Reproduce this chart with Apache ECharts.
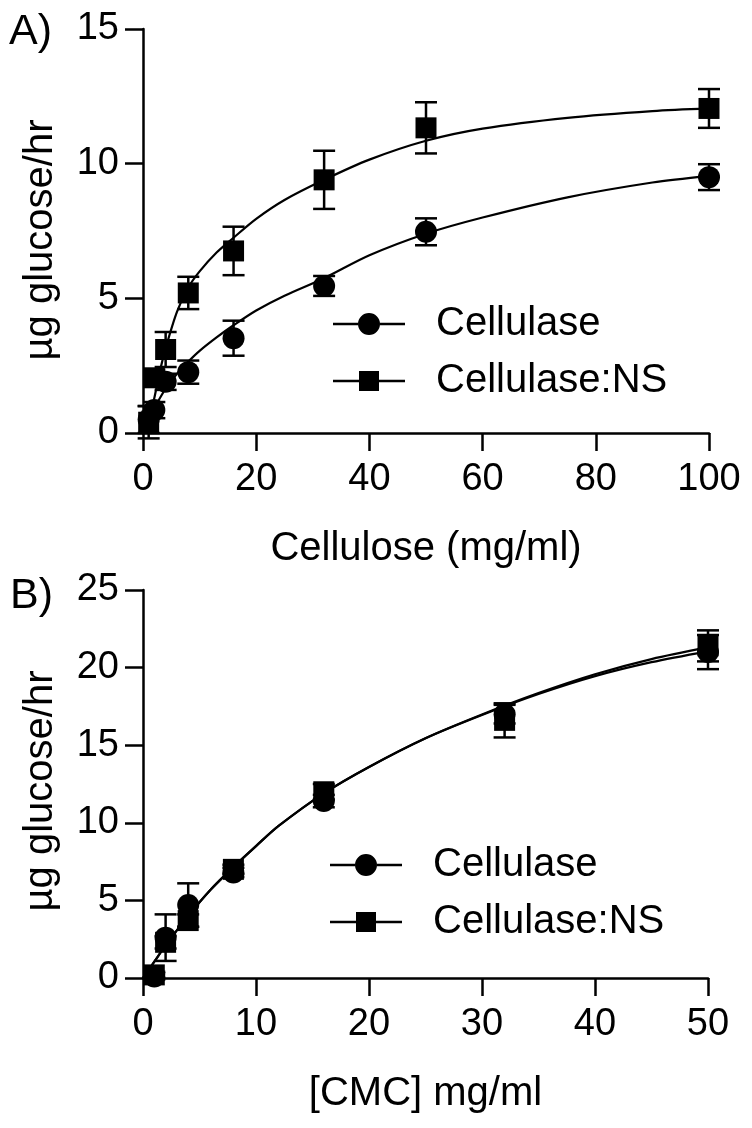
<!DOCTYPE html>
<html>
<head>
<meta charset="utf-8">
<script src="https://cdn.jsdelivr.net/npm/echarts@6/dist/echarts.min.js"></script>
<style>html,body{margin:0;padding:0;background:#fff}#c{width:752px;height:1128px}</style>
</head>
<body>
<div id="c"></div>
<script>
// ---------- Panel A data (Cellulose) ----------
const xA = [1, 2, 4, 8, 16, 32, 50, 100];
const cellA = [0.5, 0.85, 1.9, 2.26, 3.52, 5.46, 7.47, 9.5];
const cellA_err = [0.5, 0.3, 0.3, 0.43, 0.65, 0.37, 0.5, 0.48];
const nsA = [0.4, 2.05, 3.1, 5.2, 6.76, 9.4, 11.33, 12.05];
const nsA_err = [0.6, 0.3, 0.65, 0.6, 0.9, 1.08, 0.95, 0.72];
// fitted curves
const xA_fit = [0, 0.5, 1, 2, 3, 4, 6, 8, 10, 13, 16, 20, 25, 32, 40, 50, 60, 75, 90, 100];
const cellA_fit = [0, 0.3, 0.6, 0.95, 1.3, 1.65, 2.2, 2.65, 3.05, 3.55, 4.0, 4.55, 5.1, 5.75, 6.6, 7.4, 8.0, 8.75, 9.3, 9.55];
const nsA_fit = [0, 0.15, 0.45, 1.3, 2.3, 3.15, 4.5, 5.4, 6.0, 6.7, 7.25, 7.95, 8.65, 9.4, 10.15, 10.85, 11.3, 11.7, 11.95, 12.05];
const xA_ticks = [0, 20, 40, 60, 80, 100];
const yA_ticks = [0, 5, 10, 15];

// ---------- Panel B data (CMC) ----------
const xB = [1, 2, 4, 8, 16, 32, 50];
const cellB = [0.1, 2.6, 4.7, 6.8, 11.4, 17.0, 21.0];
const cellB_err = [0.2, 1.5, 1.4, 0.3, 0.4, 0.6, 1.1];
const nsB = [0.2, 2.3, 3.7, 7.0, 12.0, 16.6, 21.4];
const nsB_err = [0.2, 0.4, 0.4, 0.3, 0.5, 1.1, 1.0];
const xB_fit = [0, 1, 2, 4, 6, 8, 10, 12, 16, 20, 25, 30, 35, 40, 45, 50];
const cellB_fit = [0, 1.05, 2.1, 4.0, 5.7, 7.15, 8.5, 9.8, 11.9, 13.6, 15.45, 16.95, 18.3, 19.45, 20.35, 21.05];
const nsB_fit = [0, 1.05, 2.1, 4.0, 5.7, 7.15, 8.5, 9.8, 11.9, 13.6, 15.45, 16.98, 18.36, 19.57, 20.55, 21.3];
const xB_ticks = [0, 10, 20, 30, 40, 50];
const yB_ticks = [0, 5, 10, 15, 20, 25];

const names = ['Cellulase', 'Cellulase:NS'];
const yTitle = 'µg glucose/hr';
const FONT = 'Liberation Sans, Arial, sans-serif';
const FS_TICK = 38;
const FS_NAME = 40;
const FS_LEG = 40;

const zip = (xs, ys) => xs.map((x, i) => [x, ys[i]]);
const zip3 = (xs, ys, es) => xs.map((x, i) => [x, ys[i], es[i]]);

function errItem(params, api) {
  const x = api.value(0), y = api.value(1), e = api.value(2);
  const t = api.coord([x, y + e]);
  const b = api.coord([x, y - e]);
  const hw = 11;
  const st = { stroke: '#000', lineWidth: 2.5 };
  return { type: 'group', children: [
    { type: 'line', shape: { x1: t[0], y1: t[1], x2: b[0], y2: b[1] }, style: st },
    { type: 'line', shape: { x1: t[0] - hw, y1: t[1], x2: t[0] + hw, y2: t[1] }, style: st },
    { type: 'line', shape: { x1: b[0] - hw, y1: b[1], x2: b[0] + hw, y2: b[1] }, style: st }
  ]};
}

const circleIcon = 'path://M0,9.75 L25,9.75 L25,12.25 L0,12.25 Z M47,9.75 L72,9.75 L72,12.25 L47,12.25 Z M25,11 A11,11 0 1 1 47,11 A11,11 0 1 1 25,11 Z';
const squareIcon = 'path://M0,9.75 L26,9.75 L26,12.25 L0,12.25 Z M46,9.75 L72,9.75 L72,12.25 L46,12.25 Z M26,1 L46,1 L46,21 L26,21 Z M36,0 L36,0.01 Z M36,22 L36,21.99 Z';

function valueAxis(gi, min, max, interval, name, gap, isX) {
  return {
    type: 'value', gridIndex: gi, min: min, max: max, interval: interval,
    name: name, nameLocation: 'middle', nameGap: gap,
    nameTextStyle: { fontFamily: FONT, fontSize: FS_NAME, color: '#000' },
    axisLine: { show: true, onZero: false, lineStyle: { color: '#000', width: 2.5 } },
    axisTick: { show: true, inside: false, length: 18, lineStyle: { color: '#000', width: 2.5 } },
    axisLabel: { show: true, margin: isX ? 28 : 24, fontFamily: FONT, fontSize: FS_TICK, color: '#000' },
    splitLine: { show: false }
  };
}

function scatter(name, xi, data, sym) {
  return { type: 'scatter', name: name, xAxisIndex: xi, yAxisIndex: xi, data: data,
    symbol: sym, symbolSize: sym === 'circle' ? 22 : 21, clip: false,
    itemStyle: { color: '#000', opacity: 1 }, z: 5 };
}
function curve(name, xi, data) {
  return { type: 'line', name: name + ' fit', xAxisIndex: xi, yAxisIndex: xi, data: data,
    smooth: 0.3, showSymbol: false, symbol: 'none', clip: false,
    lineStyle: { color: '#000', width: 2.2 }, z: 3 };
}
function errs(xi, data) {
  return { type: 'custom', xAxisIndex: xi, yAxisIndex: xi, data: data, renderItem: errItem,
    encode: { x: 0, y: 1 }, clip: false, z: 4 };
}

const legendText = { fontFamily: FONT, fontSize: FS_LEG, color: '#000', padding: [0, 0, 0, 26] };

const chart = echarts.init(document.getElementById('c'), null, { renderer: 'canvas' });
chart.setOption({
  animation: false,
  backgroundColor: '#fff',
  grid: [
    { left: 143, right: 43, top: 29, height: 404, containLabel: false, outerBoundsMode: 'none' },
    { left: 143, right: 44, top: 590, height: 388, containLabel: false, outerBoundsMode: 'none' }
  ],
  xAxis: [
    valueAxis(0, 0, 100, 20, 'Cellulose (mg/ml)', 96, true),
    valueAxis(1, 0, 50, 10, '[CMC] mg/ml', 96, true)
  ],
  yAxis: [
    valueAxis(0, 0, 15, 5, '', 0, false),
    valueAxis(1, 0, 25, 5, '', 0, false)
  ],
  legend: [
    { orient: 'vertical', left: 328, top: 299, itemWidth: 72, itemHeight: 22, itemGap: 17,
      textStyle: legendText,
      data: [{ name: names[0], icon: circleIcon }, { name: names[1], icon: squareIcon }],
      selectedMode: false },
    { orient: 'vertical', left: 325, top: 840, itemWidth: 72, itemHeight: 22, itemGap: 17,
      textStyle: legendText,
      data: [{ name: names[0], icon: circleIcon }, { name: names[1], icon: squareIcon }],
      selectedMode: false }
  ],
  graphic: [
    { type: 'text', left: 9, top: 11, style: { text: 'A)', fontFamily: FONT, fontSize: 43, fill: '#000' } },
    { type: 'text', left: 10, top: 575, style: { text: 'B)', fontFamily: FONT, fontSize: 43, fill: '#000' } },
    { type: 'text', x: 41, y: 240, rotation: Math.PI / 2,
      style: { text: yTitle, fontFamily: FONT, fontSize: FS_NAME, fill: '#000', align: 'center', verticalAlign: 'middle' } },
    { type: 'text', x: 41, y: 791, rotation: Math.PI / 2,
      style: { text: yTitle, fontFamily: FONT, fontSize: FS_NAME, fill: '#000', align: 'center', verticalAlign: 'middle' } }
  ],
  series: [
    curve(names[0], 0, zip(xA_fit, cellA_fit)),
    curve(names[1], 0, zip(xA_fit, nsA_fit)),
    errs(0, zip3(xA, cellA, cellA_err)),
    errs(0, zip3(xA, nsA, nsA_err)),
    scatter(names[0], 0, zip(xA, cellA), 'circle'),
    scatter(names[1], 0, zip(xA, nsA), 'rect'),
    curve(names[0], 1, zip(xB_fit, cellB_fit)),
    curve(names[1], 1, zip(xB_fit, nsB_fit)),
    errs(1, zip3(xB, cellB, cellB_err)),
    errs(1, zip3(xB, nsB, nsB_err)),
    scatter(names[0], 1, zip(xB, cellB), 'circle'),
    scatter(names[1], 1, zip(xB, nsB), 'rect')
  ]
});
</script>
</body>
</html>
